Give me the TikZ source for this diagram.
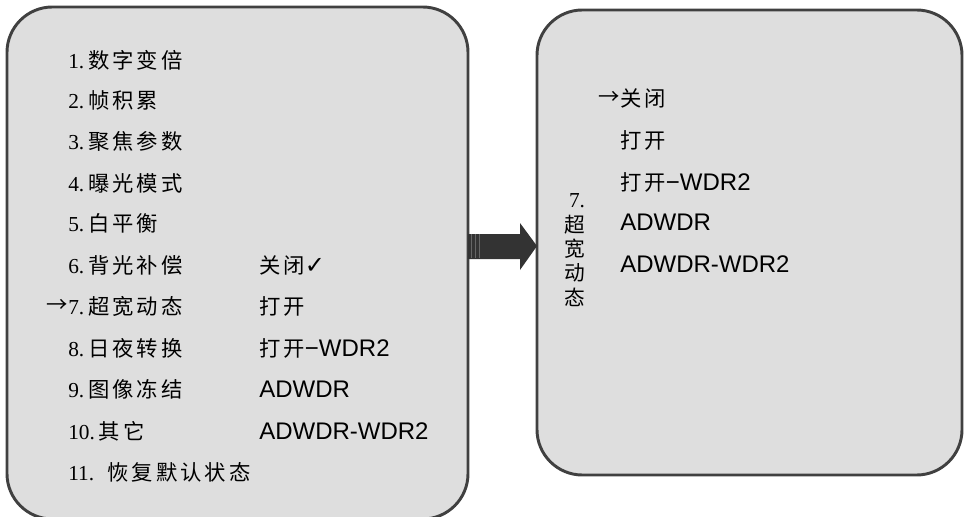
\documentclass[tikz,border=0pt]{standalone}
\usepackage{fontspec}
\setmainfont{Liberation Serif}
\newfontfamily\cjk[LetterSpace=14]{Noto Sans CJK SC}
\newfontfamily\cjkv{Noto Sans CJK SC}
\newfontfamily\arial{Liberation Sans}
\newfontfamily\symf{DejaVu Sans}
\newcommand{\rarr}{{\cjkv\fontsize{16}{18}\selectfont →}}
\newcommand{\sep}{\hspace{3pt}}
\begin{document}
\begin{tikzpicture}[x=0.75pt,y=-0.75pt,
  panel/.style={draw=black!75,line width=2.2pt,fill=black!13,rounded corners=34pt},
  item/.style={anchor=west,inner sep=0pt,font=\fontsize{16}{18}\selectfont},
  lat/.style={anchor=west,inner sep=0pt,font=\arial\fontsize{18}{20}\selectfont},
  vert/.style={anchor=center,inner sep=0pt,font=\cjkv\fontsize{15.5}{17}\selectfont}]
\useasboundingbox (0,0) rectangle (970,517);
\clip (0,0) rectangle (970,517);
% panels
\draw[panel] (7,7) rectangle (468,519);
\draw[panel] (537,10) rectangle (962,475);
\coordinate (L) at (468,246);
\coordinate (R) at (537,246);
% arrow
\fill[black!80] (L) ++(0,-12) -- ++(52,0) -- ++(0,-11) -- (R) -- ++(-17,24) -- ++(0,-11) -- ++(-52,0) -- cycle;
\foreach \xx in {471,475,479}{\draw[black!60,line width=0.6pt] (\xx,234) -- (\xx,258);}
% left menu
\node[item] (m1) at (68,60) {1.\sep{\cjk 数字变倍}};
\node[item] (m2) at (68,100) {2.\sep{\cjk 帧积累}};
\node[item] (m3) at (68,141) {3.\sep{\cjk 聚焦参数}};
\node[item] (m4) at (68,183) {4.\sep{\cjk 曝光模式}};
\node[item] (m5) at (68,223) {5.\sep{\cjk 白平衡}};
\node[item] (m6) at (68,265) {6.\sep{\cjk 背光补偿}};
\node[item] (m7) at (68,306) {7.\sep{\cjk 超宽动态}};
\node[item,anchor=east] (a7) at (m7.west) {\rarr};
\node[item] (m8) at (68,348) {8.\sep{\cjk 日夜转换}};
\node[item] (m9) at (68,389) {9.\sep{\cjk 图像冻结}};
\node[item] (m10) at (68,431) {10.\sep{\cjk 其它}};
\node[item] (m11) at (68,472) {11.\hspace{10pt}{\cjk 恢复默认状态}};
% left values
\node[item] (v6) at (259,265) {{\cjk 关闭}{\symf\fontsize{18}{20}\selectfont ✓}};
\node[item] (v7) at (259,306) {{\cjk 打开}};
\node[item] (v8) at (259,348) {{\cjk 打开}{\arial\fontsize{18}{20}\selectfont −WDR2}};
\node[lat] (v9) at (259,389) {ADWDR};
\node[lat] (v10) at (259,431) {ADWDR-WDR2};
% right menu
\node[item] (r1) at (620,98) {{\cjk 关闭}};
\node[item,anchor=east] (ra) at (r1.west) {\rarr};
\node[item] (r2) at (620,140) {{\cjk 打开}};
\node[item] (r3) at (620,182) {{\cjk 打开}{\arial\fontsize{18}{20}\selectfont −WDR2}};
\node[lat] (r4) at (620,222) {ADWDR};
\node[lat] (r5) at (620,264) {ADWDR-WDR2};
% vertical label
\node[vert,font=\fontsize{16}{18}\selectfont] (t0) at (577,201) {7.};
\node[vert] (t1) at (575,225) {超};
\node[vert] (t2) at (575,249) {宽};
\node[vert] (t3) at (575,273) {动};
\node[vert] (t4) at (575,297) {态};
\end{tikzpicture}
\end{document}
